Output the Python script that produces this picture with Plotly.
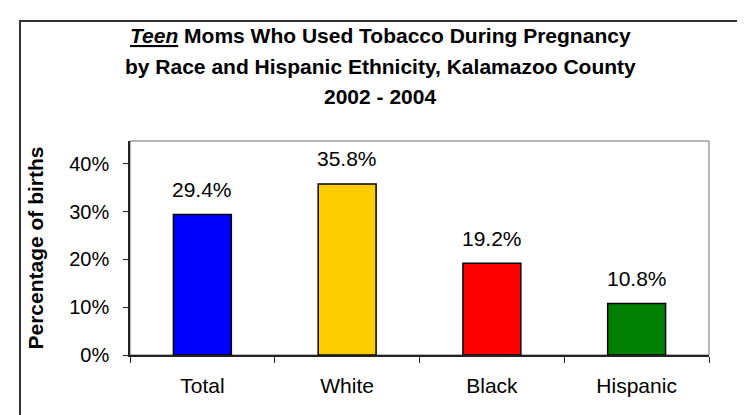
import plotly.graph_objects as go

categories = ["Total", "White", "Black", "Hispanic"]
values = [0.294, 0.358, 0.192, 0.108]
value_labels = ["29.4%", "35.8%", "19.2%", "10.8%"]
bar_colors = ["#0000FF", "#FFCC00", "#FF0000", "#008000"]
y_tickvals = [0, 0.1, 0.2, 0.3, 0.4]
y_ticktext = ["0%", "10%", "20%", "30%", "40%"]
title_lines = [
    "<i><u>Teen</u></i> Moms Who Used Tobacco During Pregnancy",
    "by Race and Hispanic Ethnicity, Kalamazoo County",
    "2002 - 2004",
]
y_title = "Percentage of births"

FONT = "Liberation Sans, Arial, sans-serif"

fig = go.Figure()
fig.add_trace(go.Bar(
    x=categories,
    y=values,
    width=0.4,
    marker=dict(color=bar_colors, line=dict(color="#000000", width=1.5)),
    hoverinfo="skip",
))

annotations = []
for c, v, t in zip(categories, values, value_labels):
    annotations.append(dict(
        x=c, y=v, xref="x", yref="y", text=t, showarrow=False,
        yanchor="middle", yshift=25,
        font=dict(family=FONT, size=21, color="#000000"),
    ))

title_y = [1.491, 1.346, 1.208]
for line, yy in zip(title_lines, title_y):
    annotations.append(dict(
        x=0.4326, y=yy, xref="paper", yref="paper", text="<b>" + line + "</b>",
        showarrow=False, xanchor="center", yanchor="middle",
        font=dict(family=FONT, size=21, color="#000000"),
    ))

shapes = [
    # plot area border (gray)
    dict(type="rect", xref="paper", yref="paper", x0=0, x1=1, y0=0, y1=1,
         line=dict(color="#707070", width=1), layer="below"),
    # outer chart frame
    dict(type="rect", xref="paper", yref="paper", x0=-0.190, x1=1.0674,
         y0=-0.34, y1=1.561, line=dict(color="#333333", width=2)),
]

fig.update_layout(
    width=745, height=415,
    margin=dict(l=122, r=44, t=133, b=68),
    paper_bgcolor="#FFFFFF", plot_bgcolor="#FFFFFF",
    showlegend=False,
    font=dict(family=FONT, color="#000000"),
    annotations=annotations,
    shapes=shapes,
    xaxis=dict(
        type="category",
        range=[-0.5, 3.5],
        showline=True, linecolor="#222222", linewidth=1.5,
        ticks="outside", tickson="boundaries", ticklen=6, tickcolor="#222222",
        tickfont=dict(family=FONT, size=21, color="#000000"),
        ticklabelstandoff=11,
        showgrid=False, zeroline=False,
    ),
    yaxis=dict(
        range=[0, 0.448],
        tickvals=y_tickvals, ticktext=y_ticktext,
        showline=True, linecolor="#222222", linewidth=1.5,
        ticks="outside", ticklen=5, tickcolor="#222222",
        tickfont=dict(family=FONT, size=20, color="#000000"),
        ticklabelstandoff=10,
        showgrid=False, zeroline=False,
        title=dict(text="<b>" + y_title + "</b>", standoff=20,
                   font=dict(family=FONT, size=21, color="#000000")),
    ),
)

fig.write_html("out.html")
